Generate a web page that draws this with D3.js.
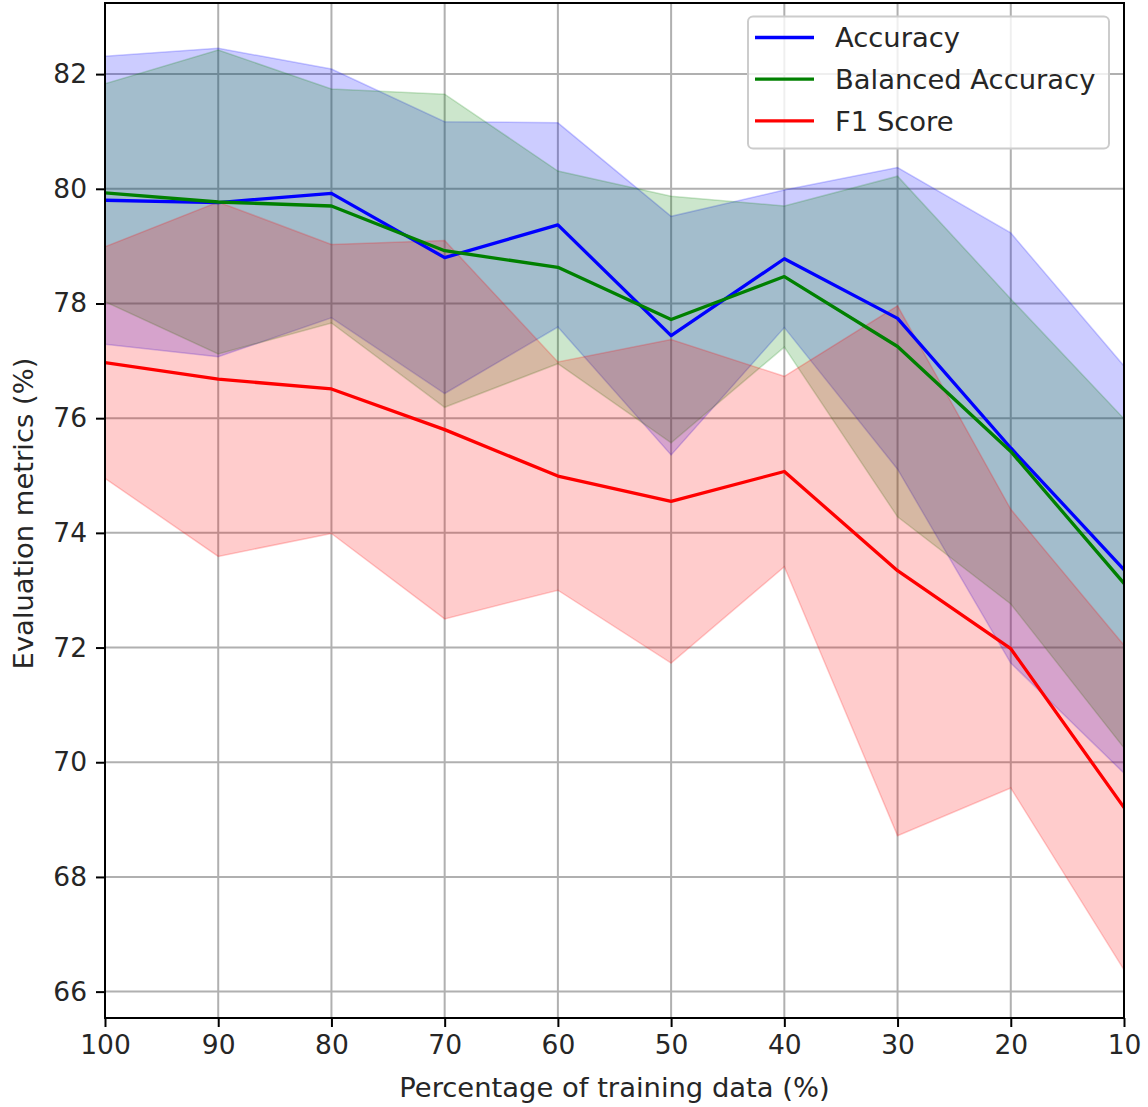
<!DOCTYPE html>
<html>
<head>
<meta charset="utf-8">
<script src="https://cdn.jsdelivr.net/npm/d3@7"></script>
<style>
  html, body { margin: 0; padding: 0; background: #fff; }
  svg { display: block; }
  text { font-family: "DejaVu Sans", sans-serif; fill: #262626; }
</style>
</head>
<body>
<svg id="chart" width="1148" height="1107"></svg>
<script>
// Percentage of the training set used
const trainPct = [100, 90, 80, 70, 60, 50, 40, 30, 20, 10];

// Mean scores (%) and their standard deviations
const accuracyMean = [79.80, 79.76, 79.92, 78.80, 79.37, 77.44, 78.78, 77.74, 75.48, 73.36];
const accuracyStd  = [2.51, 2.69, 2.17, 2.37, 1.78, 2.08, 1.20, 2.63, 3.75, 3.55];

const balancedMean = [79.93, 79.77, 79.70, 78.92, 78.63, 77.72, 78.47, 77.25, 75.42, 73.12];
const balancedStd  = [1.90, 2.65, 2.04, 2.73, 1.68, 2.15, 1.23, 2.97, 2.66, 2.87];

const f1Mean = [76.97, 76.68, 76.51, 75.80, 74.99, 74.55, 75.07, 73.34, 71.98, 69.21];
const f1Std  = [2.02, 3.09, 2.52, 3.30, 1.99, 2.82, 1.66, 4.62, 2.43, 2.83];

const yTicks = [66, 68, 70, 72, 74, 76, 78, 80, 82];
const yDomain = [65.54, 83.24];

const seriesNames = ["Accuracy", "Balanced Accuracy", "F1 Score"];
const seriesColors = ["#0000ff", "#008000", "#ff0000"];

const series = [
  { name: seriesNames[0], color: seriesColors[0], mean: accuracyMean, std: accuracyStd },
  { name: seriesNames[1], color: seriesColors[1], mean: balancedMean, std: balancedStd },
  { name: seriesNames[2], color: seriesColors[2], mean: f1Mean, std: f1Std }
];

const svg = d3.select("#chart");
const plot = { left: 105, right: 1124, top: 3, bottom: 1018 };
const TICK_FONT = 26.5;
const LABEL_FONT = 27.4;

const x = d3.scaleLinear().domain([100, 10]).range([plot.left, plot.right]);
const y = d3.scaleLinear().domain(yDomain).range([plot.bottom, plot.top]);

// grid
const grid = svg.append("g");
grid.selectAll("line.gx").data(trainPct).enter().append("line")
  .attr("x1", d => x(d)).attr("x2", d => x(d))
  .attr("y1", plot.top).attr("y2", plot.bottom)
  .attr("stroke", "#b0b0b0").attr("stroke-width", 2);
grid.selectAll("line.gy").data(yTicks).enter().append("line")
  .attr("x1", plot.left).attr("x2", plot.right)
  .attr("y1", d => y(d)).attr("y2", d => y(d))
  .attr("stroke", "#b0b0b0").attr("stroke-width", 2);

svg.append("clipPath").attr("id", "plotclip").append("rect")
  .attr("x", plot.left).attr("y", plot.top)
  .attr("width", plot.right - plot.left).attr("height", plot.bottom - plot.top);

const layer = svg.append("g").attr("clip-path", "url(#plotclip)");

// shaded bands (mean ± std), drawn before the lines
const area = d3.area()
  .x(d => x(d.p))
  .y0(d => y(d.m - d.s))
  .y1(d => y(d.m + d.s));

series.forEach(s => {
  const rows = trainPct.map((p, i) => ({ p, m: s.mean[i], s: s.std[i] }));
  layer.append("path")
    .datum(rows)
    .attr("d", area)
    .attr("fill", s.color).attr("fill-opacity", 0.2)
    .attr("stroke", s.color).attr("stroke-opacity", 0.2).attr("stroke-width", 1.5);
});

const line = d3.line().x(d => x(d.p)).y(d => y(d.m));
series.forEach(s => {
  const rows = trainPct.map((p, i) => ({ p, m: s.mean[i] }));
  layer.append("path")
    .datum(rows)
    .attr("d", line)
    .attr("fill", "none")
    .attr("stroke", s.color).attr("stroke-width", 3.3)
    .attr("stroke-linejoin", "round").attr("stroke-linecap", "square");
});

// axes
const xAxis = d3.axisBottom(x).tickValues(trainPct).tickSize(9).tickPadding(8);
const gx = svg.append("g").attr("transform", `translate(0,${plot.bottom})`).call(xAxis);
const yAxis = d3.axisLeft(y).tickValues(yTicks).tickSize(9).tickPadding(9);
const gy = svg.append("g").attr("transform", `translate(${plot.left},0)`).call(yAxis);
[gx, gy].forEach(g => {
  g.select(".domain").remove();
  g.selectAll(".tick line").attr("stroke", "#000").attr("stroke-width", 2);
  g.selectAll(".tick text").attr("font-size", TICK_FONT).attr("font-family", "DejaVu Sans").attr("fill", "#262626");
});

// frame
svg.append("rect")
  .attr("x", plot.left).attr("y", plot.top)
  .attr("width", plot.right - plot.left).attr("height", plot.bottom - plot.top)
  .attr("fill", "none").attr("stroke", "#000").attr("stroke-width", 2);

// axis titles
svg.append("text")
  .attr("x", (plot.left + plot.right) / 2).attr("y", 1097)
  .attr("text-anchor", "middle").attr("font-size", LABEL_FONT)
  .text("Percentage of training data (%)");
svg.append("text")
  .attr("transform", `translate(33,${(plot.top + plot.bottom) / 2 + 3}) rotate(-90)`)
  .attr("text-anchor", "middle").attr("font-size", LABEL_FONT)
  .text("Evaluation metrics (%)");

// legend
const lg = svg.append("g");
lg.append("rect")
  .attr("x", 748).attr("y", 16.5).attr("width", 361).attr("height", 132).attr("rx", 5)
  .attr("fill", "#fff").attr("fill-opacity", 0.8)
  .attr("stroke", "#cccccc").attr("stroke-width", 2);
series.forEach((s, i) => {
  const cy = 37.5 + i * 41.7;
  lg.append("line").attr("x1", 755).attr("x2", 814).attr("y1", cy).attr("y2", cy)
    .attr("stroke", s.color).attr("stroke-width", 3.3);
  lg.append("text").attr("x", 835).attr("y", cy).attr("dy", "0.36em")
    .attr("font-size", LABEL_FONT).text(s.name);
});
</script>
</body>
</html>
